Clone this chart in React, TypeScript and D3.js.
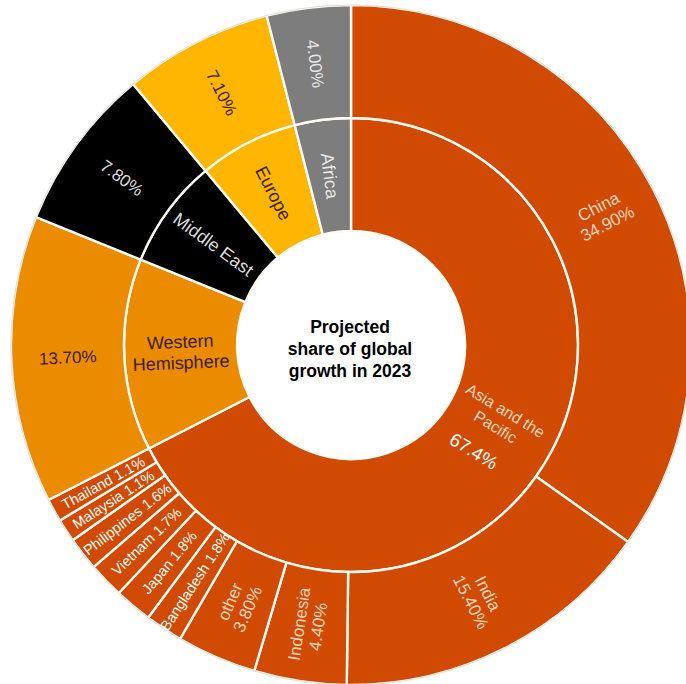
import React from "react";
import * as d3 from "d3";

const regions = ["Asia and the Pacific", "Western Hemisphere", "Middle East", "Europe", "Africa"];
const regionShares = [67.4, 13.7, 7.8, 7.1, 4.0];
const regionLabelLines = [["Asia and the", "Pacific"], ["Western", "Hemisphere"], ["Middle East"], ["Europe"], ["Africa"]];
const asiaCountries = ["China", "India", "Indonesia", "other", "Bangladesh", "Japan", "Vietnam", "Philippines", "Malaysia", "Thailand"];
const asiaShares = [34.9, 15.4, 4.4, 3.8, 1.8, 1.8, 1.7, 1.6, 1.1, 1.1];
const centerTitle = ["Projected", "share of global", "growth in 2023"];

const regionColors = ["#D04A02", "#EB8C00", "#000000", "#FFB600", "#7D7D7D"];
const regionTextColors = ["#FAD6BC", "#3d2000", "#DADADA", "#3d2000", "#E6E6E6"];

const W = 686;
const H = 684;
const CX = 351;
const CY = 345;
const R0 = 114;
const R1 = 227;
const R2 = 340;

type Node = { name: string; value?: number; region: number; children?: Node[] };

const tree: Node = {
  name: "root",
  region: -1,
  children: regions.map((r, i) =>
    i === 0
      ? { name: r, region: i, children: asiaCountries.map((c, j) => ({ name: c, value: asiaShares[j], region: i })) }
      : { name: r, region: i, children: [{ name: r, value: regionShares[i], region: i }] }
  ),
};

export default function App() {
  const root = d3.hierarchy<Node>(tree).sum((d) => d.value ?? 0);
  d3.partition<Node>().size([2 * Math.PI, 3])(root);
  const radius = d3.scaleLinear().domain([1, 2, 3]).range([R0, R1, R2]);
  const arc = d3
    .arc<any>()
    .startAngle((d) => d.x0)
    .endAngle((d) => d.x1)
    .innerRadius((d) => radius(d.y0))
    .outerRadius((d) => radius(d.y1));

  const nodes = root.descendants().filter((d) => d.depth > 0) as any[];

  const labelTransform = (d: any, r?: number) => {
    const mid = (d.x0 + d.x1) / 2;
    let x: number, y: number;
    if (r !== undefined) {
      x = Math.sin(mid) * r;
      y = -Math.cos(mid) * r;
    } else {
      [x, y] = arc.centroid(d);
    }
    const a = (mid * 180) / Math.PI;
    const rot = a < 180 ? a - 90 : a - 270;
    return `translate(${x},${y}) rotate(${rot})`;
  };

  const outerLabel = (d: any): { lines: string[]; size: number; color: string } => {
    const reg = d.data.region;
    const v = d.data.value as number;
    if (reg !== 0) {
      return { lines: [d3.format(".2f")(v) + "%"], size: 17, color: regionTextColors[reg] };
    }
    if (v >= 3) {
      return { lines: [d.data.name, d3.format(".2f")(v) + "%"], size: 17, color: "#FAD6BC" };
    }
    return { lines: [`${d.data.name} ${d3.format(".1f")(v)}%`], size: 14.5, color: "#FFFFFF" };
  };

  return (
    <svg width={W} height={H} style={{ position: "absolute", left: 0, top: 0 }} fontFamily="'Liberation Sans', Arial, sans-serif">
      <rect width={W} height={H} fill="#fff" />
      <g transform={`translate(${CX},${CY})`}>
        {nodes.map((d, i) => (
          <path key={i} d={arc(d) as string} fill={regionColors[d.data.region]} stroke="#FFFBF4" strokeWidth={2.4} strokeLinejoin="round" />
        ))}
        <circle r={R2} fill="none" stroke="#d8d8d8" strokeWidth={0.8} />
        {nodes
          .filter((d) => d.depth === 2)
          .map((d, i) => {
            const lab = outerLabel(d);
            const lh = lab.size * 1.12;
            return (
              <text key={"o" + i} transform={labelTransform(d)} textAnchor="middle" fontSize={lab.size} fill={lab.color}>
                {lab.lines.map((l, k) => (
                  <tspan key={k} x={0} y={(k - (lab.lines.length - 1) / 2) * lh + lab.size * 0.35}>
                    {l}
                  </tspan>
                ))}
              </text>
            );
          })}
        {nodes
          .filter((d) => d.depth === 1)
          .map((d, i) => {
            const reg = d.data.region;
            const lines = regionLabelLines[reg];
            if (reg === 0) {
              const all = [...lines, d3.format(".1f")(regionShares[0]) + "%"];
              const lh = 19;
              return (
                <text key={"i" + i} transform={labelTransform(d, 166)} textAnchor="middle" fill="#FAD6BC">
                  {all.map((l, k) => (
                    <tspan key={k} x={k === 2 ? -6 : 0} y={(k - (all.length - 1) / 2) * lh + (k === 2 ? 14 : 0)} fontSize={k === 2 ? 18.5 : 16} fill={k === 2 ? "#FFFFFF" : "#FAD6BC"}>
                      {l}
                    </tspan>
                  ))}
                </text>
              );
            }
            const lh = 21;
            return (
              <text key={"i" + i} transform={labelTransform(d)} textAnchor="middle" fontSize={18} fill={regionTextColors[reg]}>
                {lines.map((l, k) => (
                  <tspan key={k} x={0} y={(k - (lines.length - 1) / 2) * lh + 6}>
                    {l}
                  </tspan>
                ))}
              </text>
            );
          })}
        <text textAnchor="middle" fontSize={17.5} fontWeight="bold" fill="#000">
          {centerTitle.map((l, k) => (
            <tspan key={k} x={-1} y={(k - 1) * 22 + 10}>
              {l}
            </tspan>
          ))}
        </text>
      </g>
    </svg>
  );
}
